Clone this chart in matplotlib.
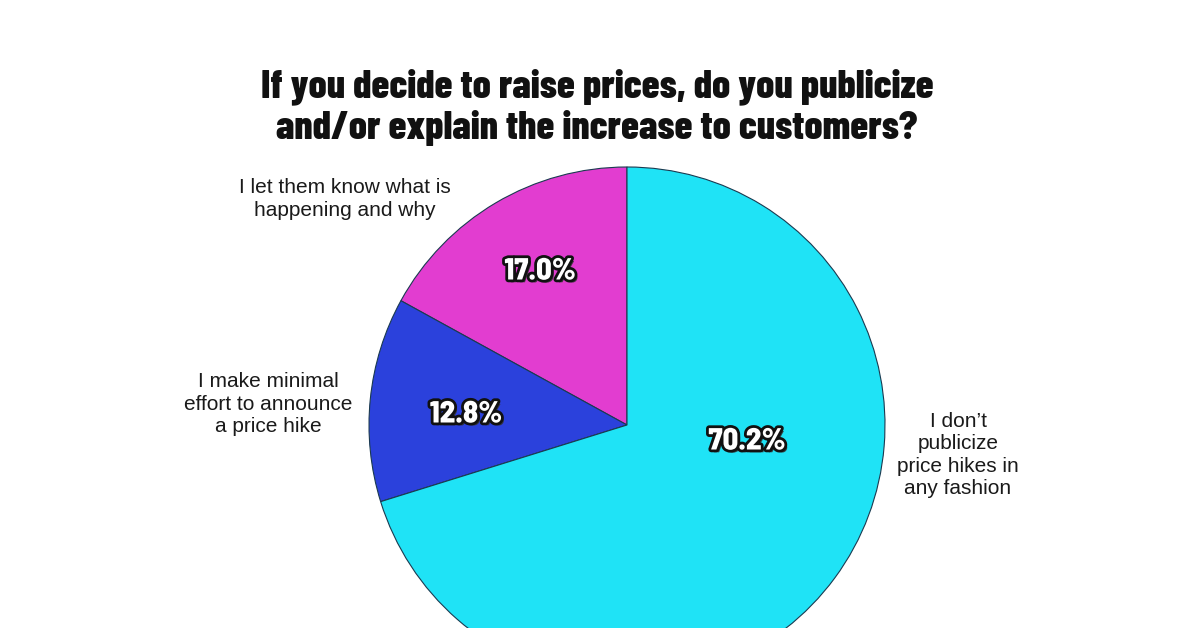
import matplotlib
matplotlib.use("Agg")
import matplotlib.pyplot as plt
import matplotlib.patheffects as pe

## Data
answers = ["I let them know what is\nhappening and why",
           "I make minimal\neffort to announce\na price hike",
           "I don\u2019t\npublicize\nprice hikes in\nany fashion"]
shares = [17.0, 12.8, 70.2]
colors = ["#e23dd0", "#2b41dc", "#1fe3f6"]
title = "If you decide to raise prices, do you publicize\nand/or explain the increase to customers?"

## Layout (pixel space, y up)
W, H = 1200, 628
center = (627, H - 425); radius = 258
label_pos = [(345, H - 199), (268, H - 404), (958, H - 455)]
pct_pos = [(540, H - 272), (466, H - 415), (747, H - 442)]
heavy = ["Barlow Condensed", "DejaVu Sans"]
semi = ["Barlow Semi Condensed", "DejaVu Sans"]
plain = ["Liberation Sans", "DejaVu Sans"]

fig = plt.figure(figsize=(W / 100, H / 100), dpi=100)
ax = fig.add_axes([0, 0, 1, 1])

ax.pie(shares, colors=colors, startangle=90, counterclock=True,
       center=center, radius=radius, frame=True,
       wedgeprops=dict(edgecolor="#1a3a50", linewidth=0.8))
ax.set_xlim(0, W); ax.set_ylim(0, H); ax.set_aspect("equal"); ax.axis("off")

# Title
fig.text(597 / W, 1 - 107 / H, title, ha="center", va="center",
         fontsize=29, fontweight=800, family=heavy,
         color="#111111", linespacing=1.17)

# Category labels
for txt, (x, y) in zip(answers, label_pos):
    ax.text(x, y, txt, ha="center", va="center", fontsize=15,
            family=plain, color="#1a1a1a", linespacing=1.22)

# Percentage labels
effects = [pe.withSimplePatchShadow(offset=(2, -2), shadow_rgbFace="#333333", alpha=0.9),
           pe.Stroke(linewidth=4, foreground="#111111"), pe.Normal()]
for v, (x, y) in zip(shares, pct_pos):
    ax.text(x, y, f"{v:.1f}%", ha="center", va="center", fontsize=22,
            fontweight=800, family=semi, color="white", path_effects=effects)

fig.savefig("out.png", dpi=100, facecolor="white")
